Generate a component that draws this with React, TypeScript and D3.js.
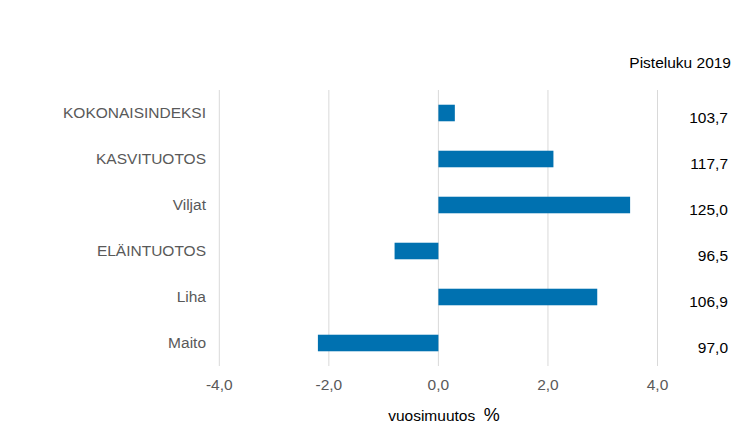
import React from "react";
import * as d3 from "d3";

const categories = ["KOKONAISINDEKSI", "KASVITUOTOS", "Viljat", "ELÄINTUOTOS", "Liha", "Maito"];
const changes = [0.3, 2.1, 3.5, -0.8, 2.9, -2.2];
const pointLabels = ["103,7", "117,7", "125,0", "96,5", "106,9", "97,0"];
const ticks = [-4, -2, 0, 2, 4];

const W = 752;
const H = 441;

export default function App() {
  const x = d3.scaleLinear().domain([-4, 4]).range([219.3, 657.5]);
  const y = d3.scaleBand<string>().domain(categories).range([90, 366]).paddingInner(0.64).paddingOuter(0.32);
  const fmt = (v: number) => d3.format(".1f")(v).replace(".", ",").replace("−", "-");
  const font = "'Liberation Sans', Arial, sans-serif";
  return (
    <svg width={W} height={H} style={{ position: "absolute", left: 0, top: 0 }} fontFamily={font}>
      <rect width={W} height={H} fill="#fff" />
      {ticks.map((t) => (
        <line key={t} x1={x(t)} x2={x(t)} y1={90} y2={366} stroke="#d9d9d9" strokeWidth={1} />
      ))}
      {categories.map((c, i) => {
        const v = changes[i];
        const x0 = x(Math.min(0, v));
        const x1 = x(Math.max(0, v));
        return <rect key={c} x={x0} y={y(c)} width={x1 - x0} height={y.bandwidth()} fill="#0071b0" />;
      })}
      {categories.map((c) => (
        <text key={c} x={206} y={(y(c) as number) + y.bandwidth() / 2} dy="0.35em" textAnchor="end" fontSize={15.5} fill="#595959">
          {c}
        </text>
      ))}
      {categories.map((c, i) => (
        <text key={c} x={728} y={(y(c) as number) + y.bandwidth() / 2 + 5} dy="0.35em" textAnchor="end" fontSize={15.5} fill="#000">
          {pointLabels[i]}
        </text>
      ))}
      <text x={731} y={63} dy="0.35em" textAnchor="end" fontSize={15.5} fill="#000">
        Pisteluku 2019
      </text>
      {ticks.map((t) => (
        <text key={t} x={x(t)} y={385} dy="0.35em" textAnchor="middle" fontSize={15.5} fill="#595959">
          {fmt(t)}
        </text>
      ))}
      <text x={444} y={416} dy="0.35em" textAnchor="middle" fontSize={15.5} fill="#000" style={{ whiteSpace: "pre" }}>
        {"vuosimuutos  "}
        <tspan fontSize={18}>%</tspan>
      </text>
    </svg>
  );
}
